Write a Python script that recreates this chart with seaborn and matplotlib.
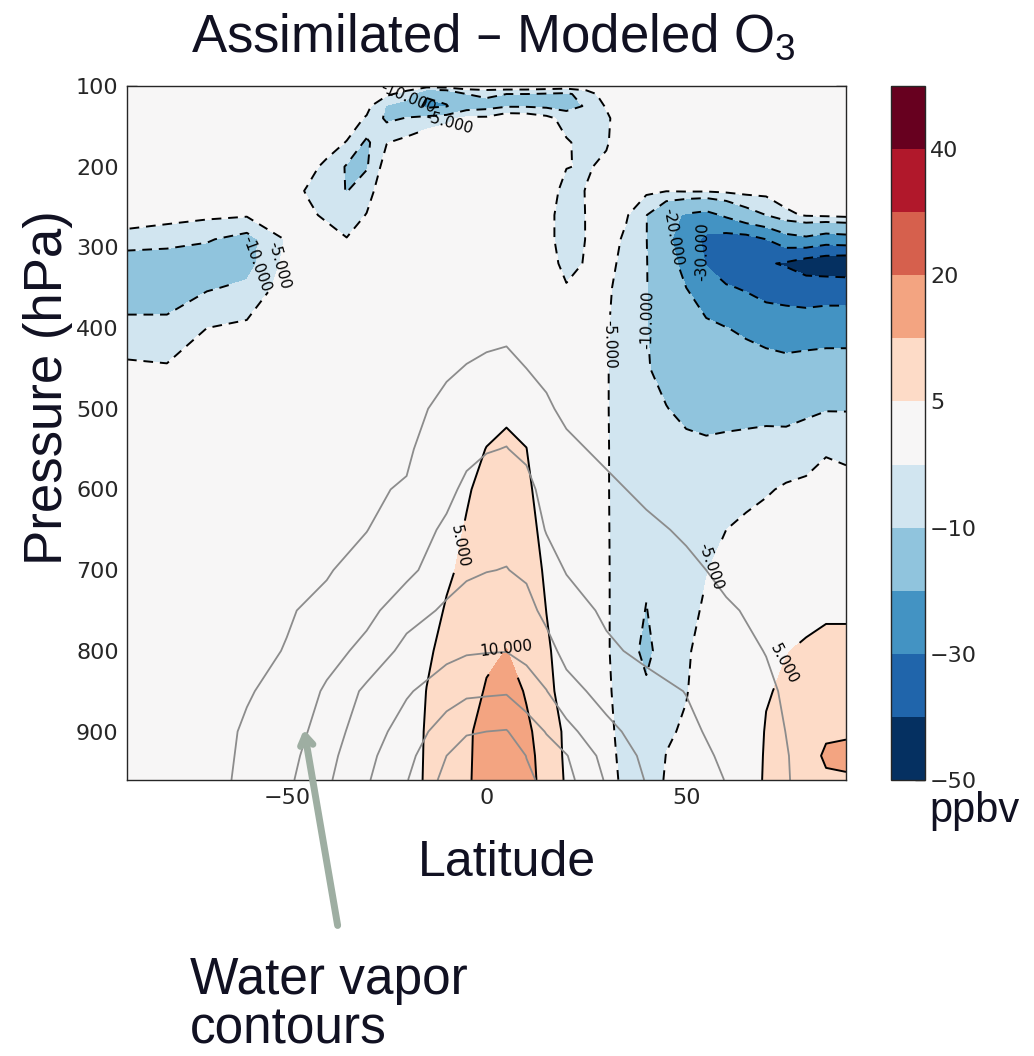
import numpy as np
import matplotlib
matplotlib.use("Agg")
import matplotlib.pyplot as plt
import seaborn as sns

# grid of the assimilated - modeled ozone field (ppbv)
lat = [-90, -80, -70, -60, -50, -45, -40, -35, -30, -25, -20, -15, -10, -5,
       0, 5, 10, 15, 20, 25, 30, 35, 40, 45, 50, 55, 60, 65, 70, 75, 80, 85, 90]
pres = [100, 110, 125, 140, 170, 200, 230, 260, 290, 320, 350, 400, 450, 500,
        550, 600, 700, 800, 850, 900, 930, 960]

# one row per latitude, values from top (100 hPa) to bottom (960 hPa)
o3_diff = np.array([
    [0, 0, 0, 0, 0, -1, -2, -3, -6.5, -14, -13, -8.5, -4, -2, -1, 0, 0, 0.5, 1, 1, 1, 1],
    [0, 0, 0, 0, 0, -1, -2.5, -3.5, -7.5, -14, -13, -8.5, -4.5, -2, -1, 0, 0, 0.5, 1, 1, 1, 1],
    [0, 0, 0, 0, 0, -1.5, -2.5, -4, -9.5, -13, -10.5, -5, -2, -1, 0, 0, 0.5, 1, 1, 1.5, 1.5, 1.5],
    [0, 0, 0, 0, 0, -1.5, -3, -4.5, -12, -12, -9, -4, -1.5, -1, 0, 0.5, 1, 1, 1.5, 1.5, 1.5, 1.5],
    [0, 0, 0, -0.5, -1, -2, -3, -4.2, -4.5, -3.5, -2.5, -1, 0, 0, 0.5, 0.5, 1, 1.5, 1.5, 2, 2, 2],
    [0, 0, -0.5, -1, -2, -3.5, -5.3, -4, -3, -2, -1.5, -0.5, 0, 0.5, 0.5, 1, 1, 1.5, 2, 2, 2.2, 2.5],
    [0, 0, -0.5, -1.5, -3, -6, -7.5, -5.8, -3, -2, -1, 0, 0.5, 0.5, 1, 1, 1.5, 2, 2, 2.5, 2.5, 2.5],
    [0, -0.5, -1.2, -2.5, -5.2, -10.5, -10.2, -7.5, -4.8, -2.5, -1.5, 0, 0.5, 1, 1, 1.5, 2, 2, 2.5, 2.5, 2.8, 3],
    [0, -1, -3.5, -5.5, -11, -10.5, -7, -4.8, -2.5, -1.5, -1, 0, 0.5, 1, 1.5, 1.5, 2, 2.5, 2.5, 3, 3, 3],
    [-1, -4, -10.5, -11, -5.2, -2.5, -1.5, -1, -0.5, 0, 0, 0.5, 1, 1, 1.5, 2, 2, 2.5, 3, 3, 3, 3],
    [-2, -7, -13, -9.8, -3.5, -2, -1, -0.5, 0, 0, 0.5, 1, 1, 1.5, 1.5, 2, 2, 2, 1.5, 1.5, 1.6, 1.8],
    [-2, -19, -22, -7.5, -2, -1.5, -1, 0, 0, 0.5, 0.5, 1, 1.5, 1.5, 2, 2.5, 3.5, 4.2, 5.1, 5.6, 5.7, 5.8],
    [-2, -17, -20.5, -6, -2, -1, 0, 0, 0.5, 0.5, 1, 1, 1.5, 2, 2.5, 3, 4.3, 6.5, 7, 7.5, 7.8, 8],
    [-1.5, -10, -13, -4, -1, 0, 0, 0.5, 0.5, 1, 1, 1.5, 2, 2.5, 3.5, 4.6, 6, 8, 8.5, 9.3, 9.4, 9.5],
    [-1, -9, -12, -4, -1, 0, 0, 0.5, 1, 1, 1.5, 2, 2.5, 3.5, 5.1, 6.2, 8, 9.4, 10.3, 11.5, 11.5, 11.5],
    [-1, -10, -10.5, -1, -0.5, 0, 0, 0.5, 1, 1, 1.5, 2, 2.5, 4.3, 5.8, 6.8, 8.5, 10.05, 12, 13, 13, 13],
    [-1, -10, -10.5, -1.5, -1, 0, 0, 0, 0.5, 1, 1, 1.5, 2, 3.8, 5.05, 6, 7.5, 8.8, 9.6, 10.8, 11.5, 12],
    [-1.5, -10.5, -11, -3.5, -1.5, -1.5, -2, -3, -3, -2, -1, 0.5, 1, 1.5, 2, 2.5, 4.3, 5.6, 6, 8, 8, 8],
    [-2, -11, -12, -7, -4.5, -4.8, -7, -8, -8, -7, -4.5, -2, 0, 1, 1.5, 2, 2.5, 3, 3.5, 4, 4.2, 4.5],
    [-2, -7.5, -9.5, -8.5, -6.5, -5.5, -4.8, -4.8, -4.8, -4.5, -3, -1.5, -0.5, 0, 0.5, 1, 1.5, 2, 2.5, 3, 3, 3],
    [-1, -2.5, -4.5, -6, -5.5, -4, -2.5, -2, -2.5, -3, -3.8, -4.5, -4.6, -4.6, -4.6, -4.6, -4.5, -4.5, -4.3, -4, -3.8, -3.5],
    [0, 0, -0.5, -1, -1.5, -2, -3, -4.5, -6, -7, -8, -8, -8, -8, -7.5, -7.5, -7.5, -7.5, -7, -6.5, -6.2, -6],
    [0, 0, 0, -0.5, -1, -2, -4, -9.8, -9.8, -9.7, -9.7, -9.7, -9.5, -8, -8, -8, -9, -11.5, -9, -8.5, -8.2, -8],
    [0, 0, 0, 0, -1, -2, -4.8, -17, -18, -16, -15, -14, -12, -9.8, -8.5, -8, -7.5, -7, -6.5, -5.5, -4.9, -4.5],
    [0, 0, 0, 0, -1, -2.5, -4.5, -21, -25, -23, -20, -16, -14, -11.5, -8.5, -7, -6, -5.5, -5.2, -4.5, -3.2, -2.5],
    [0, 0, 0, 0, -1, -2.5, -4.5, -23, -32, -30.5, -26, -18, -14, -12, -9, -7, -5.2, -3.5, -3, -2, -1.5, -1],
    [0, 0, 0, 0, -1, -2.5, -4, -18.5, -34, -36, -29, -19.8, -15, -12, -8.5, -6.5, -3.5, -2, -1.5, -1, -0.5, 0],
    [0, 0, 0, 0, -0.5, -2, -3.5, -13, -34, -38, -31, -21.5, -16, -11.5, -8.5, -6, -2.5, -1, 0, 0.5, 0.8, 1],
    [0, 0, 0, 0, 0, -1.5, -3.5, -10, -30, -39, -34, -23, -17, -11.5, -8, -5.4, -1.5, 2, 4.5, 5.5, 5.8, 6],
    [0, 0, 0, 0, 0, -1, -2.5, -6, -24, -41, -34, -25, -17, -12, -7.5, -4.5, -1, 4.8, 6, 7, 7, 7],
    [0, 0, 0, 0, 0, -0.5, -2, -4.5, -22, -45, -35, -25, -16, -11, -7, -4, 1, 5.8, 7, 8, 8.5, 8],
    [0, 0, 0, 0, 0, -0.5, -2, -4, -25, -47, -34, -25, -15, -10.3, -5.5, -3, 2, 6.5, 8, 9.5, 10.5, 9.5],
    [0, 0, 0, 0, 0, -0.5, -1.5, -3.5, -24, -48, -34, -25, -15, -10.3, -6, -3.5, 2, 6.5, 8, 9.5, 11, 9.5],
])
o3_levels = [-50, -40, -30, -20, -10, -5, 5, 10, 20, 30, 40, 50]
o3_lines = [-40, -30, -20, -10, -5, 5, 10, 20, 30, 40]
cbar_ticks = [-50, -30, -10, 5, 20, 40]

# water vapor field (lower troposphere only)
wv_lat = [-90, -80, -70, -60, -50, -40, -30, -20, -10, -5, 0, 5, 10, 15, 20,
          30, 40, 50, 60, 70, 80, 90]
wv_pres = [400, 450, 500, 550, 600, 650, 700, 750, 800, 850, 900, 930, 960]
wv = np.array([
    [0.2, 0.3, 0.3, 0.4, 0.5, 0.6, 0.7, 0.8, 0.9, 1.0, 1.1, 1.2, 1.2],
    [0.3, 0.4, 0.5, 0.6, 0.7, 0.8, 0.9, 1.0, 1.1, 1.2, 1.3, 1.4, 1.4],
    [0.4, 0.5, 0.6, 0.7, 0.8, 0.9, 1.0, 1.1, 1.2, 1.35, 1.5, 1.55, 1.6],
    [0.5, 0.6, 0.7, 0.8, 0.9, 1.1, 1.3, 1.5, 1.7, 1.9, 2.15, 2.2, 2.25],
    [0.7, 0.8, 1.0, 1.1, 1.3, 1.5, 1.7, 1.9, 2.05, 2.4, 2.9, 3.3, 3.6],
    [1.0, 1.1, 1.3, 1.5, 1.7, 1.8, 1.9, 2.3, 3.2, 4.3, 5.0, 5.4, 5.7],
    [1.2, 1.3, 1.5, 1.7, 1.85, 1.97, 2.5, 3.4, 4.6, 6.4, 7.1, 7.5, 7.8],
    [1.4, 1.5, 1.65, 1.8, 2.1, 2.8, 3.5, 5.2, 6.6, 7.8, 8.8, 9.4, 9.9],
    [1.6, 1.85, 2.3, 2.9, 3.4, 4.4, 5.2, 6.3, 7.5, 9.0, 11.0, 12.0, 12.6],
    [1.6, 2.05, 2.7, 3.4, 4.5, 5.2, 5.7, 6.8, 7.8, 9.6, 11.8, 13.0, 13.5],
    [1.7, 2.2, 3.1, 3.9, 4.8, 5.4, 5.95, 6.9, 7.9, 9.7, 12.0, 13.5, 14.0],
    [1.75, 2.3, 3.3, 4.05, 4.9, 5.5, 6.05, 7.0, 7.95, 9.8, 12.1, 13.6, 14.2],
    [1.6, 2.0, 2.8, 3.6, 4.6, 5.1, 5.7, 6.6, 7.5, 8.9, 11.0, 11.95, 12.4],
    [1.4, 1.7, 2.2, 2.8, 3.3, 3.9, 4.8, 5.5, 6.7, 8.05, 9.9, 10.8, 11.5],
    [1.2, 1.4, 1.7, 2.3, 2.8, 3.3, 3.9, 4.8, 5.4, 6.7, 8.6, 10.1, 10.6],
    [0.9, 1.1, 1.4, 1.7, 2.3, 2.9, 3.3, 3.7, 4.3, 5.3, 6.5, 7.3, 7.8],
    [0.7, 0.9, 1.1, 1.4, 1.7, 2.3, 2.6, 3.0, 3.6, 4.6, 5.2, 5.6, 5.9],
    [0.5, 0.7, 0.9, 1.1, 1.4, 1.8, 2.3, 2.7, 3.2, 3.95, 4.4, 4.7, 4.9],
    [0.4, 0.5, 0.7, 0.9, 1.1, 1.4, 1.7, 2.15, 2.6, 3.0, 3.4, 3.7, 3.95],
    [0.3, 0.4, 0.5, 0.7, 0.9, 1.1, 1.4, 1.7, 1.95, 2.3, 2.6, 2.8, 2.9],
    [0.2, 0.3, 0.4, 0.5, 0.6, 0.7, 0.9, 1.0, 1.2, 1.3, 1.35, 1.4, 1.4],
    [0.1, 0.2, 0.3, 0.4, 0.5, 0.6, 0.7, 0.8, 0.9, 1.0, 1.0, 1.1, 1.1],
])
wv_levels = [2, 4, 6, 8, 10, 12]

# spots where the contour labels sit (lat, hPa)
label_spots = [(-20, 114), (-9, 148), (-57, 322), (-52, 322), (30.5, 420),
               (38.5, 390), (45.8, 285), (54, 305), (-7.8, 670), (3.5, 790),
               (55, 693), (72, 811)]

sns.set_style("ticks")
plt.rcParams["font.family"] = ["DejaVu Sans"]
plt.rcParams["mathtext.default"] = "regular"

fig = plt.figure(figsize=(10.34, 10.56), dpi=100)
ax = fig.add_axes([0.1228, 0.2614, 0.6954, 0.6572])
cax = fig.add_axes([0.8617, 0.2614, 0.0329, 0.6572])

cmap = plt.get_cmap("RdBu_r")
band_colors = [cmap(i / 10) for i in range(11)]

cf = ax.contourf(lat, pres, o3_diff.T, levels=o3_levels, colors=band_colors)
dash_styles = [(0, (5, 3.5)) if v < 0 else "solid" for v in o3_lines]
cs = ax.contour(lat, pres, o3_diff.T, levels=o3_lines, colors="k",
                linewidths=1.4, linestyles=dash_styles)
ax.contour(wv_lat, wv_pres, wv.T, levels=wv_levels, colors="#8c8c8c",
           linewidths=1.3)
ax.clabel(cs, fmt="%.3f", fontsize=11, manual=label_spots, inline=True)

ax.set_xlim(-90, 90)
ax.set_ylim(960, 100)
ax.set_xticks([-50, 0, 50])
ax.set_yticks(range(100, 1000, 100))
ax.tick_params(direction="in", top=True, right=True, length=7, width=1,
               labelsize=16, pad=6)
for s in ax.spines.values():
    s.set_linewidth(1.0)

cb = fig.colorbar(cf, cax=cax, ticks=cbar_ticks)
cb.ax.tick_params(direction="in", length=7, width=1, labelsize=16)
cb.outline.set_linewidth(1.0)

big = dict(family="Liberation Sans", color="#111122")
fig.text(0.477, 0.951, "Assimilated – Modeled O$_3$", fontsize=38,
         ha="center", va="baseline", **big)
fig.text(0.046, 0.633, "Pressure (hPa)", rotation=90, fontsize=38,
         ha="center", va="center", **big)
fig.text(0.490, 0.1705, "Latitude", fontsize=36, ha="center", va="baseline", **big)
fig.text(0.899, 0.2216, "ppbv", fontsize=30, ha="left", va="baseline", **big)
fig.text(0.184, 0.0587, "Water vapor", fontsize=37, ha="left", va="baseline", **big)
fig.text(0.184, 0.0123, "contours", fontsize=37, ha="left", va="baseline", **big)

ax.annotate("", xy=(-45.8, 894), xycoords="data",
            xytext=(0.327, 0.121), textcoords="figure fraction",
            arrowprops=dict(arrowstyle="->,head_length=0.7,head_width=0.45",
                            lw=5, color="#9eaea2"))

fig.savefig("out.png", dpi=100)
